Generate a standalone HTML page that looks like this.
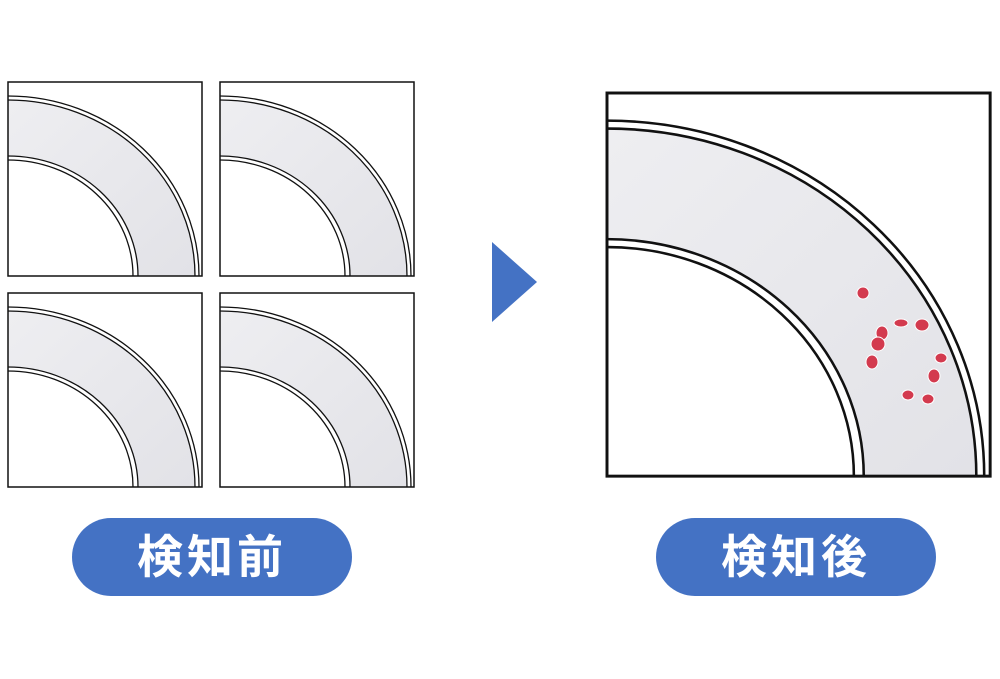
<!DOCTYPE html><html><head><meta charset="utf-8"><style>
html,body{margin:0;background:#fff;width:1000px;height:679px;overflow:hidden}
svg{display:block}
.pill{position:absolute;top:518px;width:280px;height:78px;border-radius:39px;background:#4472c4;color:#fff;font:bold 46px "Liberation Sans","Noto Sans CJK JP",sans-serif;text-align:center;line-height:78px;letter-spacing:4px}
</style></head><body>
<svg width="1000" height="679" style="position:absolute;left:0;top:0">
<defs>
<linearGradient id="g" x1="0" y1="0" x2="1" y2="1"><stop offset="0" stop-color="#f4f4f6"/><stop offset="1" stop-color="#dcdce2"/></linearGradient>
<clipPath id="c"><rect x="0" y="0" width="194" height="194"/></clipPath>
<g id="q">
<g clip-path="url(#c)" stroke="#111" stroke-width="1.3">
<rect x="0" y="0" width="194" height="194" fill="#fff" stroke="none"/>
<ellipse cx="0" cy="194" rx="191" ry="180" fill="#fff"/>
<ellipse cx="0" cy="194" rx="187" ry="176" fill="url(#g)"/>
<ellipse cx="0" cy="194" rx="130" ry="120" fill="#fff"/>
<ellipse cx="0" cy="194" rx="125" ry="116" fill="#fff"/>
</g>
<rect x="0" y="0" width="194" height="194" fill="none" stroke="#111" stroke-width="1.5"/>
</g>
</defs>
<use href="#q" x="8" y="82"/>
<use href="#q" x="220" y="82"/>
<use href="#q" x="8" y="293"/>
<use href="#q" x="220" y="293"/>
<use href="#q" transform="translate(607,93) scale(1.975)"/>
<polygon points="492,242 537,282 492,322" fill="#4472c4"/>
<g fill="#d33a4e" stroke="#fff" stroke-width="1">
<ellipse cx="863" cy="293" rx="6" ry="6"/>
<ellipse cx="901" cy="323" rx="7" ry="4"/>
<ellipse cx="922" cy="325" rx="7" ry="6"/>
<ellipse cx="882" cy="333" rx="6" ry="7"/>
<ellipse cx="878" cy="344" rx="7" ry="7"/>
<ellipse cx="872" cy="362" rx="6" ry="7"/>
<ellipse cx="941" cy="358" rx="6" ry="5"/>
<ellipse cx="934" cy="376" rx="6" ry="7"/>
<ellipse cx="908" cy="395" rx="6" ry="5"/>
<ellipse cx="928" cy="399" rx="6" ry="5"/>
</g>
</svg>
<div class="pill" style="left:72px">検知前</div>
<div class="pill" style="left:656px">検知後</div>
</body></html>
